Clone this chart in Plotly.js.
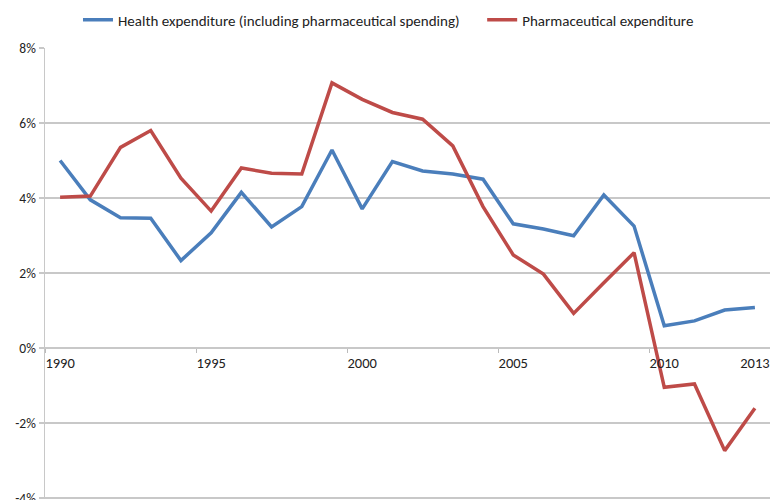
<!DOCTYPE html>
<html>
<head>
<meta charset="utf-8">
<script src="https://cdn.plot.ly/plotly-3.0.1.min.js"></script>
<style>html,body{margin:0;padding:0;background:#fff;}#chart{width:774px;height:500px;}</style>
</head>
<body>
<div id="chart"></div>
<script>
var years = [1990,1991,1992,1993,1994,1995,1996,1997,1998,1999,2000,2001,2002,2003,2004,2005,2006,2007,2008,2009,2010,2011,2012,2013];
var health = [5.0,3.95,3.47,3.46,2.33,3.07,4.15,3.23,3.77,5.28,3.71,4.97,4.72,4.64,4.5,3.31,3.17,2.99,4.08,3.25,0.59,0.72,1.01,1.08];
var pharma = [4.02,4.05,5.35,5.8,4.53,3.65,4.8,4.66,4.64,7.07,6.63,6.28,6.1,5.39,3.77,2.48,1.97,0.92,1.74,2.54,-1.05,-0.96,-2.74,-1.61];
var xTickVals = [1990,1995,2000,2005,2010,2013];
var xTickText = ['1990','1995','2000','2005','2010','2013'];
var yTickVals = [-4,-2,0,2,4,6,8];
var yTickText = ['-4%','-2%','0%','2%','4%','6%','8%'];

var font = "Carlito, 'Liberation Sans Narrow', 'Open Sans', sans-serif";

var traces = [
  {x: years, y: health, type: 'scatter', mode: 'lines', name: 'Health expenditure (including pharmaceutical spending)',
   line: {color: '#4A7EBB', width: 3.5}, legend: 'legend'},
  {x: years, y: pharma, type: 'scatter', mode: 'lines', name: 'Pharmaceutical expenditure',
   line: {color: '#BE4B48', width: 3.5}, legend: 'legend2'}
];

var legendFont = {family: font, size: 15, color: '#222'};
var yLo = -4.03;
var gridColor = '#c8c8c8';

var layout = {
  width: 774, height: 500,
  margin: {l: 45, r: 4, t: 48, b: 1},
  paper_bgcolor: '#fff', plot_bgcolor: '#fff',
  font: {family: font, size: 13, color: '#222'},
  showlegend: true,
  legend: {orientation: 'h', x: 0.0455, xanchor: 'left', y: 1.062, yanchor: 'middle',
           font: legendFont, itemwidth: 30, bgcolor: 'rgba(0,0,0,0)'},
  legend2: {orientation: 'h', x: 0.603, xanchor: 'left', y: 1.062, yanchor: 'middle',
           font: legendFont, itemwidth: 30, bgcolor: 'rgba(0,0,0,0)'},
  xaxis: {
    type: 'linear', range: [1989.5, 2013.5],
    tickmode: 'array', tickvals: xTickVals, ticktext: xTickText,
    showgrid: false, zeroline: false, showline: false,
    anchor: 'free', position: -yLo / (8 - yLo),
    ticks: '', ticklabelstandoff: 5,
    minor: {tick0: 1989.5, dtick: 5, ticks: 'outside', ticklen: 4, tickcolor: '#bbb', tickwidth: 1, showgrid: false},
    tickfont: {family: font, size: 14.5, color: '#222'}
  },
  yaxis: {
    range: [yLo, 8], tickmode: 'array', tickvals: yTickVals, ticktext: yTickText,
    showgrid: true, gridcolor: gridColor, gridwidth: 1.5, zeroline: false,
    showline: true, linecolor: gridColor, linewidth: 1.5,
    ticks: 'outside', ticklen: 5, tickcolor: gridColor, tickwidth: 1.5,
    ticklabeloverflow: 'allow',
    tickfont: {family: font, size: 13.5, color: '#222'}
  },
  shapes: [
    {type: 'line', xref: 'paper', x0: 0, x1: 1, yref: 'y', y0: yTickVals[0], y1: yTickVals[0],
     line: {color: gridColor, width: 1.5}, layer: 'below'}
  ]
};

Plotly.newPlot('chart', traces, layout, {displayModeBar: false, staticPlot: true});
</script>
</body>
</html>
